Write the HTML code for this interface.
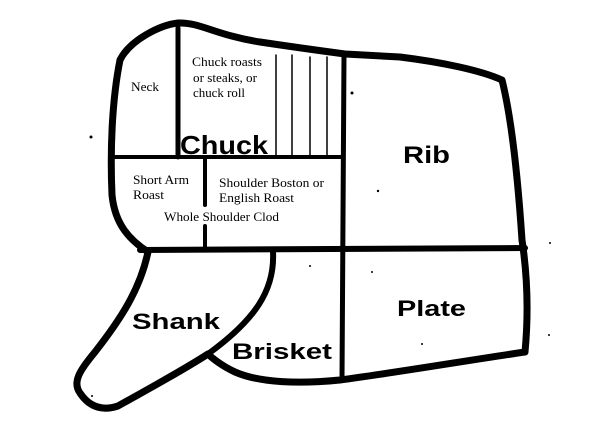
<!DOCTYPE html>
<html><head><style>
html,body{margin:0;padding:0;background:#fff;}
svg{display:block;}
.b{font-family:"Liberation Sans",sans-serif;font-weight:bold;fill:#000;}
.s{font-family:"Liberation Serif",serif;font-size:13px;fill:#000;}
</style></head><body>
<svg width="600" height="429" viewBox="0 0 600 429" xmlns="http://www.w3.org/2000/svg">
<g fill="none" stroke="#000" stroke-linejoin="round" stroke-linecap="round">
<path stroke-width="7" d="M148,252 C130,240 115,225 112,195 C110,150 112,100 120,60 C130,40 160,25 178,23 C200,22 215,35 260,42 C300,48 330,52 345,54 L400,57 C440,62 480,70 502,80 C512,120 518,180 522,240 C528,280 528,320 525,352 C470,360 400,372 340,380 C300,384 260,383 235,372 C222,366 212,358 208,354 C180,372 150,388 118,406 C100,412 88,405 80,393 C72,382 80,370 95,352 C120,320 140,290 148,252 Z"/>
<path stroke-width="5" d="M178,28 L178,157"/>
<path stroke-width="4" d="M114,157 L343,157"/>
<path stroke-width="4" d="M205,158 L205,205 M205,226 L205,250"/>
<path stroke-width="5" d="M344,55 L342,380"/>
<path stroke-width="6" d="M140,250 L525,248"/>
<path stroke-width="6" d="M273,252 C275,290 255,320 208,354"/>
<path stroke-width="1.5" d="M276,55 L276,155 M292,55 L292,155 M310,57 L310,155 M327,57 L327,155"/>
</g>
<text class="s" x="131" y="91" textLength="28" lengthAdjust="spacingAndGlyphs">Neck</text>
<text class="s" x="192" y="66" textLength="70" lengthAdjust="spacingAndGlyphs">Chuck roasts</text>
<text class="s" x="193" y="82" textLength="64" lengthAdjust="spacingAndGlyphs">or steaks, or</text>
<text class="s" x="193" y="97" textLength="52" lengthAdjust="spacingAndGlyphs">chuck roll</text>
<text class="b" x="180" y="154" font-size="26" textLength="88" lengthAdjust="spacingAndGlyphs">Chuck</text>
<text class="s" x="133" y="184" textLength="56" lengthAdjust="spacingAndGlyphs">Short Arm</text>
<text class="s" x="133" y="199" textLength="31" lengthAdjust="spacingAndGlyphs">Roast</text>
<text class="s" x="219" y="187" textLength="105" lengthAdjust="spacingAndGlyphs">Shoulder Boston or</text>
<text class="s" x="219" y="202" textLength="75" lengthAdjust="spacingAndGlyphs">English Roast</text>
<text class="s" x="164" y="221" textLength="115" lengthAdjust="spacingAndGlyphs">Whole Shoulder Clod</text>
<text class="b" x="403" y="163" font-size="24" textLength="47" lengthAdjust="spacingAndGlyphs">Rib</text>
<text class="b" x="397" y="316" font-size="22" textLength="69" lengthAdjust="spacingAndGlyphs">Plate</text>
<text class="b" x="132" y="329" font-size="22" textLength="88" lengthAdjust="spacingAndGlyphs">Shank</text>
<text class="b" x="232" y="359" font-size="22" textLength="100" lengthAdjust="spacingAndGlyphs">Brisket</text>
<g fill="#000">
<circle cx="91" cy="137" r="1.5"/><circle cx="352" cy="93" r="1.5"/><circle cx="378" cy="191" r="1.2"/>
<circle cx="310" cy="266" r="1"/><circle cx="372" cy="272" r="1"/><circle cx="422" cy="344" r="1"/>
<circle cx="550" cy="243" r="1"/><circle cx="549" cy="335" r="1"/><circle cx="92" cy="396" r="1"/>
</g>
</svg>
</body></html>
